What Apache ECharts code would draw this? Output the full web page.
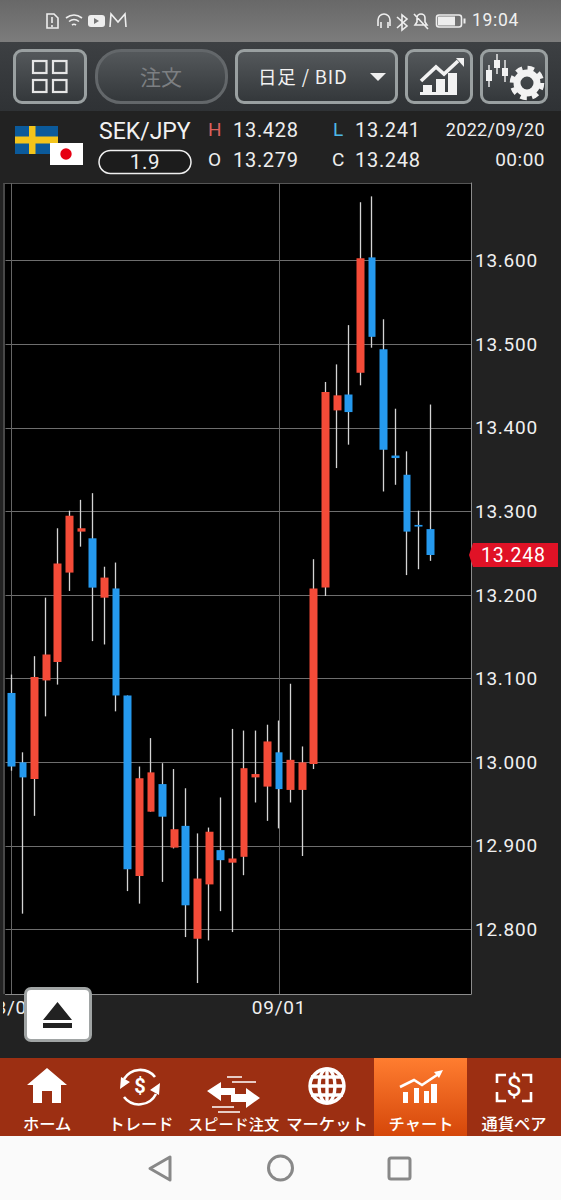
<!DOCTYPE html>
<html><head><meta charset="utf-8">
<script src="https://cdn.jsdelivr.net/npm/echarts@6/dist/echarts.min.js"></script>
<style>
html,body{margin:0;padding:0;background:#222;overflow:hidden}
body{width:561px;height:1200px;position:relative;font-family:Roboto,"Noto Sans CJK JP",sans-serif;color:#eee}
.a{position:absolute}
.t{position:absolute;white-space:nowrap;line-height:1;letter-spacing:.7px}
.btn{position:absolute;top:49px;height:49px;border:3px solid #9aa0a1;border-radius:9px;background:linear-gradient(#54585b,#34383b)}
#chart{position:absolute;left:0;top:0;width:561px;height:1200px;z-index:1;letter-spacing:.75px}
.nav{position:absolute;top:1114px;color:#fff;font-family:"Noto Sans CJK JP";font-size:16.3px;font-weight:500;line-height:18px;text-align:center;white-space:nowrap;z-index:1}
</style></head><body>
<!-- page chrome -->
<div class="a" style="left:0;top:0;width:561px;height:42px;background:linear-gradient(#686868,#7c7c7c)"></div>
<div class="a" style="left:0;top:42px;width:561px;height:69px;background:linear-gradient(#3d4043,#2f3235)"></div>
<div class="a" style="left:0;top:111px;width:561px;height:947px;background:#222"></div>
<div class="a" style="left:0;top:1058px;width:561px;height:78px;background:#9c2f12"></div>
<div class="a" style="left:374px;top:1058px;width:93px;height:78px;background:linear-gradient(#ff7d30,#d5470a)"></div>
<div class="a" style="left:0;top:1136px;width:561px;height:64px;background:#fafafa"></div>
<div class="a" style="left:3px;top:183px;width:468px;height:811px;background:#000;border-left:2px solid #474747;box-sizing:border-box;border-top:1px solid #555"></div>
<div class="btn" style="left:13px;width:68px"></div>
<div class="btn" style="left:95px;width:127px;border-color:#63676a;border-radius:26px"></div>
<div class="btn" style="left:235px;width:157px"></div>
<div class="btn" style="left:405px;width:62px"></div>
<div class="btn" style="left:480px;width:62px"></div>
<svg class="a" style="left:0;top:0" width="561" height="1200" viewBox="0 0 561 1200">
 <!-- status icons -->
 <g fill="none" stroke="#eee" stroke-width="1.6">
  <path d="M47 14h7l4 4v10h-11z"/><path d="M66 18q8-6 16 0M69 21.5q5-4 10 0M72 25q2-1.5 4 0"/>
  <path d="M110 27l1-13 7 8 7-8 1 13"/>
  <path d="M378 26v-6a6 6 0 0 1 12 0v6M381 22v6M388 22v6"/>
  <path d="M397 17l10 9-5 4v-15l5 4-10 9"/>
  <path d="M415 25h12l-2-3v-4a4 4 0 0 0-8 0v4zM414 14l14 15"/>
  <rect x="436.5" y="15" width="25" height="12" rx="2.5"/>
 </g>
 <path d="M52 17v6M52 25v2" stroke="#eee" stroke-width="1.6"/>
 <rect x="88" y="15" width="17" height="12" rx="3" fill="#eee"/><path d="M94 18l5 3-5 3z" fill="#777"/>
 <rect x="438" y="16.5" width="17" height="9" fill="#eee"/><rect x="463.5" y="18.5" width="2" height="5" fill="#eee"/>
 <!-- toolbar icons -->
 <g fill="none" stroke="#e6e6e6" stroke-width="2.2">
  <rect x="33" y="61" width="13.5" height="12"/><rect x="53" y="61" width="13.5" height="12"/>
  <rect x="33" y="80" width="13.5" height="12"/><rect x="53" y="80" width="13.5" height="12"/>
 </g>
 <path d="M370 73h16l-8 8z" fill="#eee"/>
 <path d="M421 81l15-14 8 7 14-13" fill="none" stroke="#f2f2f2" stroke-width="3.6"/>
 <path d="M456 58h8v9z" fill="#f2f2f2"/>
 <path d="M420 92h37v3h-37zM423 85h9v7h-9zM436 79h9v13h-9zM448 73h9v19h-9z" fill="#f2f2f2"/>
 <g stroke="#f2f2f2" stroke-width="1.4"><path d="M489 65v22M497 54v20M505 60v22"/></g>
 <g fill="#f2f2f2"><rect x="486" y="70" width="6" height="11"/><rect x="494" y="60" width="6" height="8"/><rect x="502" y="68" width="6" height="8"/></g>
 <circle cx="527" cy="83" r="10" fill="none" stroke="#f2f2f2" stroke-width="7"/>
 <circle cx="527" cy="83" r="15" fill="none" stroke="#f2f2f2" stroke-width="4.5" stroke-dasharray="6.5 5.3"/>
 <!-- flags -->
 <rect x="15" y="126" width="43" height="28" fill="#0b5a9b"/><rect x="29" y="126" width="6.5" height="28" fill="#f3c41b"/><rect x="15" y="136.5" width="43" height="7" fill="#f3c41b"/>
 <rect x="50" y="143" width="33" height="22" fill="#fff"/><circle cx="66" cy="154" r="5.7" fill="#e60012"/>
 <!-- change badge -->
 <rect x="99" y="150.5" width="92" height="23" rx="11.5" fill="#1c1c1c" stroke="#f0f0f0" stroke-width="1.5"/>
 <!-- nav icons -->
 <path d="M47 1068l20 17h-6v18h-9v-12h-10v12h-9v-18h-6z" fill="#fff"/>
 <g fill="none" stroke="#fff" stroke-width="2.6">
  <path d="M124 1079a19 19 0 0 1 31-2M156 1094a19 19 0 0 1-32 3"/>
 </g>
 <path d="M120 1089l1-12 9 5zM160 1083l-1 12-9-5z" fill="#fff"/>
 <text x="140" y="1093" text-anchor="middle" font-family="Roboto" font-weight="700" font-size="20" fill="#fff">$</text>
 <g fill="#fff">
  <path d="M207 1091l14-9v6h14v7h-14v6z"/>
  <path d="M260 1098l-14-10v6h-15v8h15v6z"/>
 </g>
 <g stroke="#fff" stroke-width="1.4"><path d="M227 1077h15M232 1082h24M212 1107h22M218 1112h22"/></g>
 <g fill="none" stroke="#fff" stroke-width="3.4">
  <circle cx="327" cy="1086" r="17"/><ellipse cx="327" cy="1086" rx="8" ry="17"/>
  <path d="M327 1068v36M311 1077h32M309.500 1086h35M311 1095h32"/>
 </g>
 <path d="M400 1087l14-7 8 5 18-12" fill="none" stroke="#fff" stroke-width="2.6"/><path d="M434 1072l9-2-4 8z" fill="#fff"/>
 <path d="M403 1092h5v11h-5zM414 1088h5v15h-5zM424 1091h5v12h-5zM431 1084h6v19h-6z" fill="#fff"/>
 <g fill="none" stroke="#fff" stroke-width="2.6"><path d="M506 1075h-9v8M522 1075h9v8M497 1092v9h9M531 1092v9h-9"/></g>
 <text x="514" y="1096" text-anchor="middle" font-family="Roboto" font-size="27" fill="#fff">$</text>
 <!-- android bar -->
 <g fill="none" stroke="#888" stroke-width="3" stroke-linejoin="round">
  <path d="M170 1157v23l-20-11.500z"/><circle cx="280.500" cy="1168" r="12"/><rect x="389" y="1158" width="21" height="21" rx="2"/>
 </g>
</svg>
<div class="t" style="left:472px;top:12px;font-size:17.5px;color:#f0f0f0;z-index:1">19:04</div>
<div class="t" style="left:140px;top:66px;font-size:21px;color:#7c7f82;font-family:'Noto Sans CJK JP';letter-spacing:0">注文</div>
<div class="t" style="left:258px;top:67px;font-size:18.500px;font-family:'Noto Sans CJK JP',Roboto;color:#f2f2f2;letter-spacing:.85px">日足 / BID</div>
<div class="t" style="left:99px;top:120px;font-size:23px;color:#f2f2f2;letter-spacing:0">SEK/JPY</div>
<div class="t" style="left:99px;top:151.500px;width:92px;text-align:center;font-size:20.500px;color:#f0f0f0">1.9</div>
<div class="t" style="left:208px;top:120px;font-size:19px;color:#d9605c">H</div>
<div class="t" style="left:233px;top:120px;font-size:20px;">13.428</div>
<div class="t" style="left:333px;top:120px;font-size:19px;color:#4db8e8">L</div>
<div class="t" style="left:355px;top:120px;font-size:20px;">13.241</div>
<div class="t" style="right:16px;top:121px;font-size:18px;letter-spacing:.35px">2022/09/20</div>
<div class="t" style="left:208px;top:150px;font-size:19px;">O</div>
<div class="t" style="left:233px;top:150px;font-size:20px;">13.279</div>
<div class="t" style="left:332px;top:150px;font-size:19px;">C</div>
<div class="t" style="left:355px;top:150px;font-size:20px;">13.248</div>
<div class="t" style="right:16px;top:150px;font-size:19px;letter-spacing:.5px">00:00</div>
<div class="nav" style="left:23px;width:48px">ホーム</div>
<div class="nav" style="left:108px;width:66px">トレード</div>
<div class="nav" style="left:188px;width:91px;font-size:15.200px">スピード注文</div>
<div class="nav" style="left:285px;width:84px">マーケット</div>
<div class="nav" style="left:388px;width:66px">チャート</div>
<div class="nav" style="left:480px;width:68px">通貨ペア</div>

<div id="chart"></div>

<!-- overlays -->
<div class="a" style="left:0;top:995px;width:3px;height:30px;background:#222;z-index:2"></div>
<div class="a" style="left:24px;top:987px;width:68px;height:55px;box-sizing:border-box;background:#fff;border:3px solid #a0a4a4;border-radius:7px;z-index:2"></div>
<svg class="a" style="left:0;top:990px;z-index:3" width="100" height="50"><path d="M57.500 12l14.500 18h-29zM43 33h29v5h-29z" fill="#222"/></svg>
<div class="a" id="tag" style="left:469px;top:543px;width:89px;height:24px;background:#e01226;clip-path:polygon(4px 0,100% 0,100% 100%,4px 100%,0 50%);z-index:2;color:#fff;font-size:19.500px;line-height:25px;letter-spacing:.8px;padding-left:12px;box-sizing:border-box"></div>

<script>
// Dates (weekdays) for each candle, then empty space to the right of the last candle
const categories = ['08/01','08/02','08/03','08/04','08/05','08/08','08/09','08/10','08/11','08/12',
 '08/15','08/16','08/17','08/18','08/19','08/22','08/23','08/24','08/25','08/26',
 '08/29','08/30','08/31','09/01','09/02','09/05','09/06','09/07','09/08','09/09',
 '09/12','09/13','09/14','09/15','09/16','09/19','09/20','09/21','09/22','09/23'];
const labelledDates = ['08/01','09/01'];
const openValues = [13.083,13.000,12.980,13.098,13.120,13.227,13.276,13.268,13.197,13.208,
 13.080,12.864,12.941,12.974,12.898,12.924,12.789,12.854,12.895,12.880,
 12.887,12.982,12.971,13.012,12.967,12.967,12.998,13.209,13.421,13.440,
 13.466,13.604,13.494,13.367,13.344,13.284,13.279];
const closeValues = [12.995,12.982,13.102,13.129,13.238,13.295,13.280,13.209,13.221,13.080,
 12.872,12.981,12.988,12.935,12.920,12.829,12.861,12.917,12.883,12.885,
 12.993,12.986,13.025,12.968,13.003,13.000,13.208,13.443,13.439,13.419,
 13.603,13.509,13.374,13.364,13.276,13.282,13.248];
const lowValues = [12.990,12.819,12.936,13.055,13.093,13.205,13.258,13.145,13.141,13.061,
 12.846,12.831,12.941,12.857,12.897,12.791,12.736,12.787,12.822,12.797,
 12.865,12.952,12.930,12.921,12.952,12.888,12.992,13.199,13.352,13.380,
 13.451,13.496,13.324,13.332,13.224,13.231,13.241];
const highValues = [13.105,13.012,13.127,13.197,13.280,13.301,13.314,13.322,13.234,13.239,
 13.080,12.995,13.029,12.999,12.992,12.969,12.915,12.922,12.958,13.040,
 13.038,13.038,13.045,13.050,13.094,13.019,13.243,13.455,13.476,13.523,
 13.670,13.677,13.530,13.423,13.372,13.301,13.428];
const priceTicks = [12.8,12.9,13.0,13.1,13.2,13.3,13.4,13.5,13.6];

const wickData = openValues.map((o,i)=>[o,closeValues[i],lowValues[i],highValues[i]]);
const bodyData = openValues.map((o,i)=>[o,closeValues[i],Math.min(o,closeValues[i]),Math.max(o,closeValues[i])]);
document.getElementById('tag').textContent = closeValues[closeValues.length-1].toFixed(3);

const chart = echarts.init(document.getElementById('chart'), null, {renderer:'svg', width:561, height:1200});
const isLabelled = (i,v)=>labelledDates.includes(v);
chart.setOption({
  animation:false,
  backgroundColor:'transparent',
  grid:{left:5.5,width:465.5,top:183,height:811,containLabel:false,outerBoundsMode:'none'},
  xAxis:{type:'category',data:categories,boundaryGap:true,
    axisLine:{show:true,lineStyle:{color:'#8c8c8c',width:1}},
    axisTick:{show:false,alignWithLabel:true,interval:isLabelled},
    axisLabel:{interval:isLabelled,color:'#f0f0f0',fontFamily:'Roboto',fontSize:19,margin:4,showMinLabel:true,hideOverlap:false},
    splitLine:{show:true,interval:isLabelled,alignWithLabel:true,lineStyle:{color:'#666',width:1}}},
  yAxis:{type:'value',position:'right',min:12.7229,max:13.693,scale:true,
    axisLine:{show:true,lineStyle:{color:'#8c8c8c',width:1}},
    axisTick:{show:false,customValues:priceTicks},
    axisLabel:{color:'#f0f0f0',fontFamily:'Roboto',fontSize:19,margin:4,padding:[2,0,0,0],customValues:priceTicks,formatter:v=>v.toFixed(3)},
    splitLine:{show:true,lineStyle:{color:'#6e6e6e',width:1}}},
  series:[
    {name:'range',type:'candlestick',data:wickData,barWidth:1,clip:true,silent:true,
     itemStyle:{color:'#d4d4d4',color0:'#d4d4d4',borderColor:'#d4d4d4',borderColor0:'#d4d4d4',borderWidth:1.3}},
    {name:'body',type:'candlestick',data:bodyData,barWidth:8.300,silent:true,
     itemStyle:{color:'#f44b38',color0:'#2599ee',borderColor:'#f44b38',borderColor0:'#2599ee',borderWidth:0}}
  ]
});
</script>
</body></html>
